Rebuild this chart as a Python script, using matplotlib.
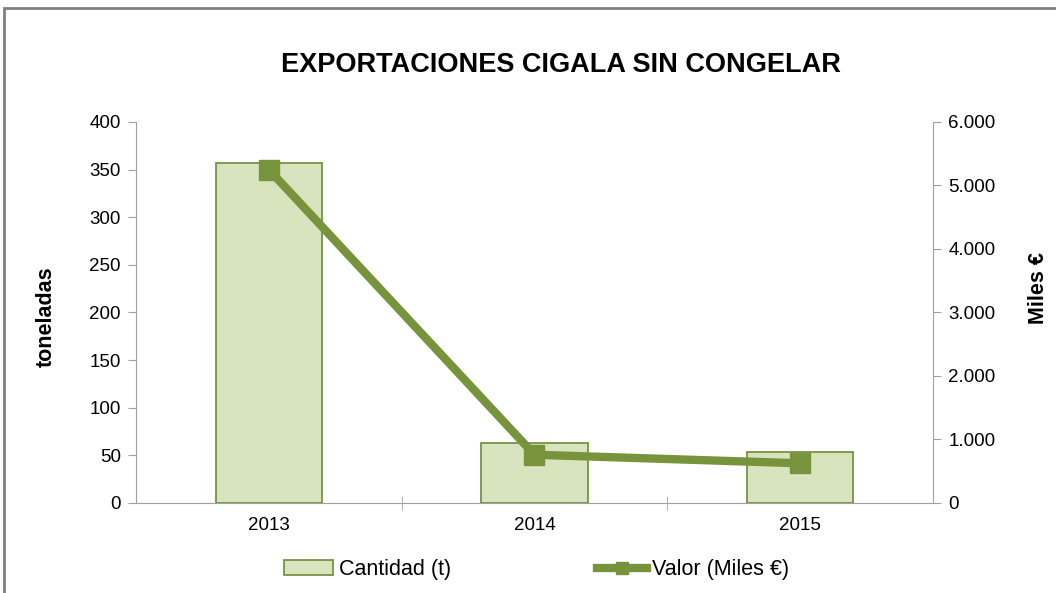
import matplotlib.pyplot as plt
from matplotlib.patches import Rectangle
from matplotlib.ticker import FuncFormatter

plt.rcParams['font.family'] = ['Liberation Sans', 'DejaVu Sans']

years = ['2013', '2014', '2015']
cantidad = [357, 63, 54]          # toneladas
valor = [5250, 760, 625]          # miles de euros

bar_fill = '#D7E4BD'
bar_edge = '#6E8A3A'
line_col = '#77933C'
axis_col = '#A0A0A0'

fig = plt.figure(figsize=(10.56, 5.93), dpi=100)
ax = fig.add_axes([0.1288, 0.1518, 0.7547, 0.6425])
ax2 = ax.twinx()

x = range(len(years))
ax.bar(x, cantidad, width=0.4, color=bar_fill, edgecolor=bar_edge, linewidth=1.2,
       label='Cantidad (t)', zorder=2)
ax2.plot(x, valor, color=line_col, linewidth=6, marker='s', markersize=14,
         label='Valor (Miles €)', solid_joinstyle='miter')

ax.set_xlim(-0.5, 2.5)
ax.set_ylim(0, 400)
ax.set_yticks(range(0, 401, 50))
ax2.set_ylim(0, 6000)
ax2.set_yticks(range(0, 6001, 1000))
ax2.yaxis.set_major_formatter(FuncFormatter(lambda v, p: f'{int(v):,}'.replace(',', '.')))

ax.set_xticks(x)
ax.set_xticklabels(years)
ax.set_xticks([0.5, 1.5], minor=True)

for a in (ax, ax2):
    a.spines['top'].set_visible(False)
    for s in ('left', 'right', 'bottom'):
        a.spines[s].set_color(axis_col)
ax.spines['right'].set_visible(False)
ax2.spines['left'].set_visible(False)
ax2.spines['bottom'].set_visible(False)

ax.tick_params(axis='y', direction='out', length=6, color=axis_col, labelsize=13.5, pad=5)
ax2.tick_params(axis='y', direction='out', length=6, color=axis_col, labelsize=13.5, pad=5)
ax.tick_params(axis='x', which='major', length=0, labelsize=13.5, pad=10)
ax.tick_params(axis='x', which='minor', direction='inout', length=10, color=axis_col)

ax.set_ylabel('toneladas', fontsize=15.5, fontweight='bold')
ax.yaxis.set_label_coords(-0.099, 0.49)
ax2.set_ylabel('Miles €', fontsize=15.5, fontweight='bold', rotation=90)
ax2.yaxis.set_label_coords(1.119, 0.565)

fig.text(0.531, 0.89, 'EXPORTACIONES CIGALA SIN CONGELAR', ha='center', va='center',
         fontsize=19.5, fontweight='bold')

h1, l1 = ax.get_legend_handles_labels()
h2, l2 = ax2.get_legend_handles_labels()
fig.legend(h1 + h2, l1 + l2, loc='center', bbox_to_anchor=(0.508, 0.039), ncol=2,
           frameon=False, fontsize=15.5, columnspacing=6.8, handlelength=2.3,
           handletextpad=0.25, markerscale=0.65)

fig.patches.append(Rectangle((0.004, -0.05), 1.2, 1.036, transform=fig.transFigure,
                             fill=False, edgecolor='#808080', linewidth=2))

fig.savefig('out.png', dpi=100)
